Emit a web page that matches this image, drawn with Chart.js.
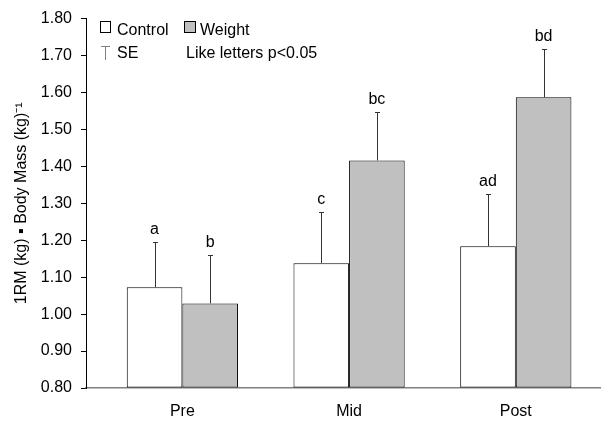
<!DOCTYPE html>
<html>
<head>
<meta charset="utf-8">
<script src="https://cdn.jsdelivr.net/npm/chart.js@4"></script>
<style>
  body { margin: 0; background: #fff; }
  #wrap { width: 601px; height: 421px; }
</style>
</head>
<body>
<div id="wrap"><canvas id="chart"></canvas></div>
<script>
const categories = ['Pre', 'Mid', 'Post'];
const control = [1.073, 1.138, 1.184];
const weight = [1.029, 1.416, 1.587];
const controlSE = [0.121, 0.138, 0.140];
const weightSE = [0.131, 0.131, 0.130];
const controlLetters = ['a', 'c', 'ad'];
const weightLetters = ['b', 'bc', 'bd'];

const FONT = '16px "Liberation Sans", Arial, sans-serif';
Chart.defaults.font.family = '"Liberation Sans", Arial, sans-serif';
Chart.defaults.font.size = 16;
Chart.defaults.color = '#000';

// error bars (upward only) and the letters above them
const errorBars = {
    id: 'errorBars',
    afterDatasetsDraw(chart) {
        const ctx = chart.ctx;
        const y = chart.scales.y;
        chart.data.datasets.forEach((ds, di) => {
            const meta = chart.getDatasetMeta(di);
            meta.data.forEach((bar, i) => {
                const top = y.getPixelForValue(ds.data[i].y + ds.se[i]);
                ctx.save();
                ctx.strokeStyle = '#333';
                ctx.lineWidth = 1;
                ctx.beginPath();
                ctx.moveTo(Math.round(bar.x) + 0.5, bar.y);
                ctx.lineTo(Math.round(bar.x) + 0.5, top);
                ctx.moveTo(Math.round(bar.x) - 2, Math.round(top) + 0.5);
                ctx.lineTo(Math.round(bar.x) + 3, Math.round(top) + 0.5);
                ctx.stroke();
                ctx.fillStyle = '#000';
                ctx.font = FONT;
                ctx.textAlign = 'center';
                ctx.textBaseline = 'alphabetic';
                ctx.fillText(ds.letters[i], bar.x, top - 8);
                ctx.restore();
            });
        });
    }
};

const legendBox = {
    id: 'legendBox',
    afterDraw(chart) {
        const ctx = chart.ctx;
        ctx.save();
        ctx.font = FONT;
        ctx.textBaseline = 'alphabetic';
        ctx.lineWidth = 1;

        ctx.strokeStyle = '#000';
        ctx.fillStyle = '#fff';
        ctx.fillRect(100.5, 21.5, 10, 11);
        ctx.strokeRect(100.5, 21.5, 10, 11);
        ctx.fillStyle = '#c0c0c0';
        ctx.fillRect(184.5, 21.5, 11, 11);
        ctx.strokeRect(184.5, 21.5, 11, 11);

        ctx.fillStyle = '#000';
        ctx.fillText('Control', 117, 35);
        ctx.fillText('Weight', 200, 35);

        ctx.strokeStyle = '#808080';
        ctx.beginPath();
        ctx.moveTo(101, 46.5);
        ctx.lineTo(110, 46.5);
        ctx.moveTo(105.5, 46.5);
        ctx.lineTo(105.5, 60);
        ctx.stroke();

        ctx.fillText('SE', 117, 58);
        ctx.fillText('Like letters p<0.05', 186, 58);
        ctx.restore();
    }
};

new Chart(document.getElementById('chart'), {
    type: 'bar',
    data: {
        datasets: [
            {
                label: 'Control',
                data: control.map((v, i) => ({ x: i, y: v })),
                se: controlSE,
                letters: controlLetters,
                backgroundColor: '#fff',
                borderColor: '#000',
                borderWidth: 1,
                borderSkipped: false,
                base: 0.8
            },
            {
                label: 'Weight',
                data: weight.map((v, i) => ({ x: i, y: v })),
                se: weightSE,
                letters: weightLetters,
                backgroundColor: '#c0c0c0',
                borderColor: '#000',
                borderWidth: 1,
                borderSkipped: false,
                base: 0.8
            }
        ]
    },
    options: {
        responsive: true,
        maintainAspectRatio: false,
        animation: false,
        categoryPercentage: 0.667,
        barPercentage: 1,
        layout: { padding: { top: 18, right: 1, left: 0, bottom: 0 } },
        plugins: {
            legend: { display: false },
            tooltip: { enabled: false }
        },
        scales: {
            x: {
                type: 'linear',
                offset: false,
                min: -0.578,
                max: 2.505,
                grid: { display: false, drawTicks: false },
                border: { display: true, color: '#808080', width: 1.5 },
                afterBuildTicks: scale => {
                    scale.ticks = categories.map((c, i) => ({ value: i }));
                },
                afterFit: scale => { scale.height = 33; },
                ticks: {
                    padding: 14,
                    maxRotation: 0,
                    autoSkip: false,
                    callback: v => categories[v]
                }
            },
            y: {
                min: 0.8,
                max: 1.8,
                afterFit: scale => { scale.width = 86; },
                grid: { drawOnChartArea: false, drawTicks: true, tickLength: 5, color: '#000' },
                border: { display: true, color: '#000', width: 1 },
                ticks: {
                    stepSize: 0.1,
                    padding: 9,
                    callback: v => v.toFixed(2)
                },
                title: {
                    display: true,
                    text: '1RM (kg) ▪ Body Mass (kg)⁻¹',
                    padding: { top: 12, bottom: 0 }
                }
            }
        }
    },
    plugins: [errorBars, legendBox]
});
</script>
</body>
</html>
